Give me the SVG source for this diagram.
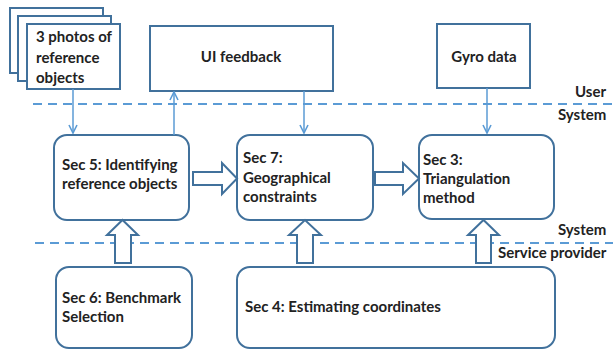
<svg xmlns="http://www.w3.org/2000/svg" width="613" height="352" viewBox="0 0 613 352">
<defs>
<style>
.box{fill:#fff;stroke:#41719C;stroke-width:2}
.ln{stroke:#5B9BD5;stroke-width:1.5;fill:none}
.dash{stroke:#5B9BD5;stroke-width:2;stroke-dasharray:9 6;fill:none}
.blk{fill:#fff;stroke:#41719C;stroke-width:2;stroke-linejoin:miter}
text{font-family:Lato,"Open Sans","Liberation Sans",sans-serif;font-weight:bold;font-size:15px;fill:#222}
</style>
<marker id="ah" viewBox="0 0 10 10" refX="9" refY="5" markerWidth="10" markerHeight="10" markerUnits="userSpaceOnUse" orient="auto">
<path d="M1,1 L9,5 L1,9" fill="none" stroke="#5B9BD5" stroke-width="1.6"/>
</marker>
</defs>
<rect width="613" height="352" fill="#fff"/>
<g id="lanes">
<line class="dash" x1="33" y1="104" x2="613" y2="104"/>
<line class="dash" x1="35" y1="243" x2="613" y2="243"/>
<text x="575" y="97">User</text>
<text x="558" y="120">System</text>
<text x="558" y="235">System</text>
<text x="498" y="258">Service provider</text>
</g>
<g id="photos">
<rect class="box" x="10" y="8" width="93" height="65"/>
<rect class="box" x="18" y="16" width="93" height="65"/>
<rect class="box" x="27" y="24" width="93" height="65"/>
<text x="36" y="42">3 photos of</text>
<text x="36" y="63">reference</text>
<text x="36" y="83">objects</text>
</g>
<g id="ui">
<rect class="box" x="150" y="26" width="183" height="65"/>
<text x="241" y="62" text-anchor="middle">UI feedback</text>
</g>
<g id="gyro">
<rect class="box" x="437" y="24" width="93" height="64"/>
<text x="484" y="62" text-anchor="middle">Gyro data</text>
</g>
<g id="sec5">
<rect class="box" x="54" y="135" width="135" height="85" rx="13"/>
<text x="62" y="170">Sec 5: Identifying</text>
<text x="62" y="189">reference objects</text>
</g>
<g id="sec7">
<rect class="box" x="237" y="135" width="136" height="85" rx="13"/>
<text x="243" y="163">Sec 7:</text>
<text x="243" y="183">Geographical</text>
<text x="243" y="202">constraints</text>
</g>
<g id="sec3">
<rect class="box" x="419" y="135" width="135" height="84" rx="13"/>
<text x="423" y="165">Sec 3:</text>
<text x="423" y="184">Triangulation</text>
<text x="423" y="203">method</text>
</g>
<g id="sec6">
<rect class="box" x="56" y="267" width="136" height="81" rx="13"/>
<text x="62" y="303">Sec 6: Benchmark</text>
<text x="62" y="322">Selection</text>
</g>
<g id="sec4">
<rect class="box" x="237" y="267" width="318" height="81" rx="13"/>
<text x="245" y="312">Sec 4: Estimating coordinates</text>
</g>
<g id="connectors">
<line class="ln" x1="73" y1="89" x2="73" y2="133" marker-end="url(#ah)"/>
<line class="ln" x1="174" y1="135" x2="174" y2="92" marker-end="url(#ah)"/>
<line class="ln" x1="304" y1="91" x2="304" y2="133" marker-end="url(#ah)"/>
<line class="ln" x1="487" y1="88" x2="487" y2="133" marker-end="url(#ah)"/>
<path class="blk" d="M193,172 H222 V163 L237,178.5 L222,194 V185 H193 Z"/>
<path class="blk" d="M375,172 H403 V163 L419,178.5 L403,194 V185 H375 Z"/>
<path class="blk" d="M115,263 V235 H107 L122.5,220 L138,235 H131 V263 Z"/>
<path class="blk" d="M297,263 V235 H289 L305,220 L321,235 H313 V263 Z"/>
<path class="blk" d="M476,263 V235 H468 L483.5,220 L499,235 H491 V263 Z"/>
</g>
</svg>
